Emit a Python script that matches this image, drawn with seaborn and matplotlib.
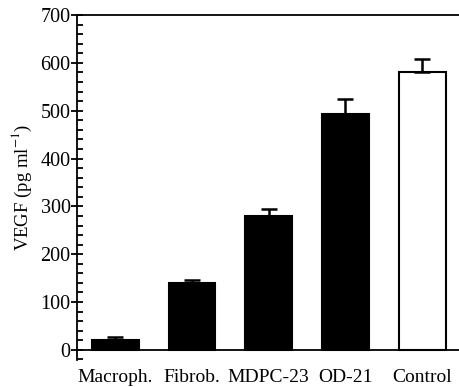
import numpy as np
import seaborn as sns
import matplotlib.pyplot as plt
from matplotlib.ticker import MultipleLocator

sns.set_style("ticks")
plt.rcParams['font.family'] = ['Liberation Serif', 'DejaVu Serif']
plt.rcParams['mathtext.fontset'] = 'stix'
plt.rcParams['text.color'] = 'black'
plt.rcParams['axes.labelcolor'] = 'black'
plt.rcParams['axes.edgecolor'] = 'black'
plt.rcParams['xtick.color'] = 'black'
plt.rcParams['ytick.color'] = 'black'

# данные
cells = ['Macroph.', 'Fibrob.', 'MDPC-23', 'OD-21', 'Control']
vegf = [20, 140, 280, 493, 580]
vegf_err = [7, 6, 14, 32, 29]
bar_colors = ['black', 'black', 'black', 'black', 'white']

fig = plt.figure(figsize=(4.6, 3.87), dpi=100)
ax = fig.add_axes([0.167, 0.070, 0.831, 0.891])

sns.barplot(x=cells, y=vegf, hue=cells, palette=bar_colors, legend=False,
            width=0.61, edgecolor='black', linewidth=1.5, ax=ax)

# только верхние усы
ax.errorbar(np.arange(len(cells)), vegf, yerr=[np.zeros(len(vegf)), vegf_err],
            fmt='none', ecolor='black', elinewidth=1.8, capsize=5.5, capthick=1.8)

ax.set_ylim(-21, 700)
ax.set_xlim(-0.5, 4.48)
ax.yaxis.set_major_locator(MultipleLocator(100))
ax.yaxis.set_minor_locator(MultipleLocator(20))
ax.tick_params(axis='y', which='major', direction='inout', length=9, width=1.3, labelsize=14.5, pad=0)
ax.tick_params(axis='y', which='minor', direction='in', length=4, width=1.3)
ax.tick_params(axis='x', which='both', length=0, labelsize=14, pad=14)

ax.spines['right'].set_visible(False)
ax.spines['bottom'].set_position(('data', 0))
for s in ['left', 'bottom', 'top']:
    ax.spines[s].set_linewidth(1.3)

ax.set_ylabel(r'VEGF (pg ml$^{-1}$)', fontsize=13.5, labelpad=5)
ax.set_xlabel('')

fig.savefig('out.png', dpi=100)
